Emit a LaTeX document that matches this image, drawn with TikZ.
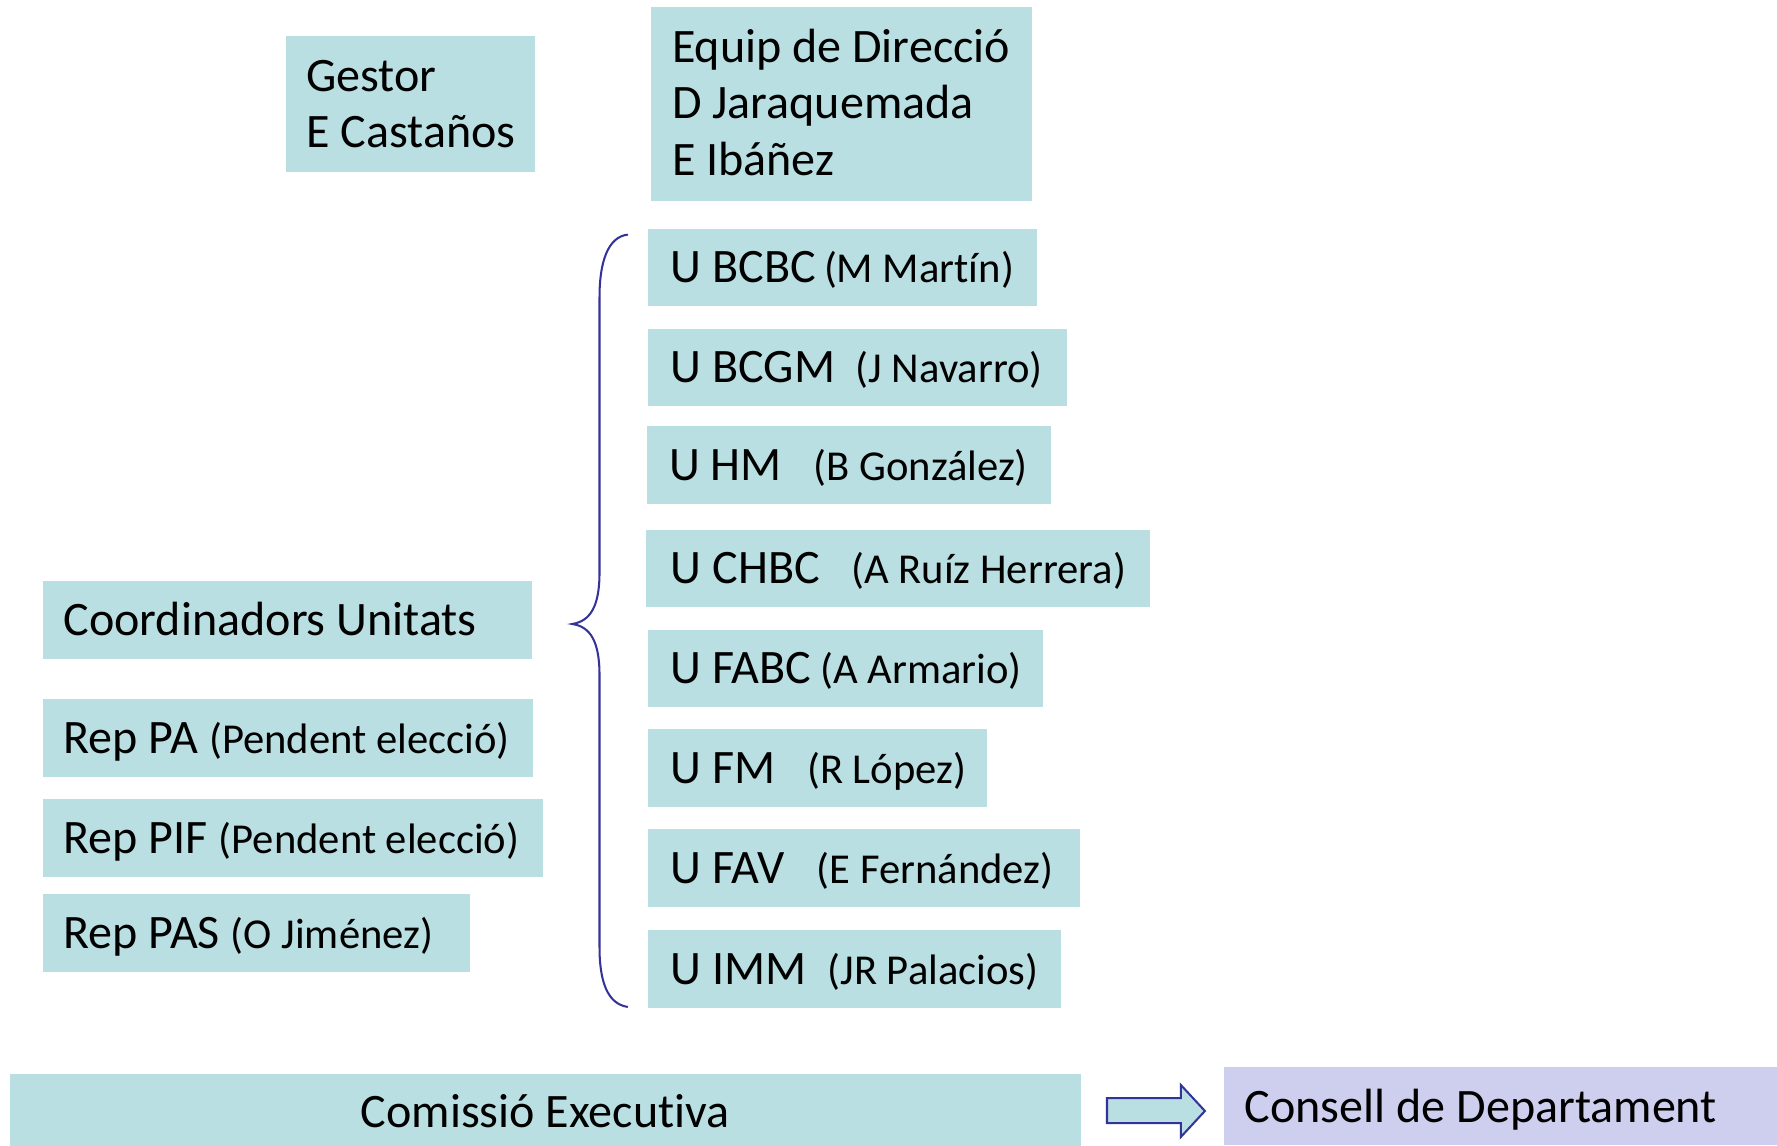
\documentclass[tikz,border=0pt]{standalone}
\usepackage{fontspec}
\setmainfont[Ligatures={NoCommon}]{Carlito}
\definecolor{boxteal}{HTML}{B9DFE2}
\definecolor{boxlav}{HTML}{CECEEE}
\definecolor{bracenavy}{HTML}{333399}
\newcommand\smtxt[1]{{\fontsize{18.8pt}{22pt}\selectfont #1}}
% name, x, y, w, h, pad, content
\newcommand\orgbox[7]{\node[box, anchor=north west, minimum width=#4*0.5pt, minimum height=#5*0.5pt, inner xsep=#6pt] (#1) at (#2,#3) {\makebox[\dimexpr #4pt/2-#6pt*2\relax][l]{#7}};}
\begin{document}
\begin{tikzpicture}[x=0.5pt,y=-0.5pt,
  box/.style={fill=boxteal, draw=none, inner ysep=0pt, font=\fontsize{21.2pt}{25pt}\selectfont, text height=13.5pt, text depth=0pt},
  bracestyle/.style={draw=bracenavy, line width=0.9pt},
  blockarrow/.style={draw=bracenavy, fill=boxteal, line width=0.9pt, line join=miter}]
\useasboundingbox (0,0) rectangle (1568,1011);

% top boxes
\node[box, anchor=north west, minimum width=110pt, minimum height=59.85pt, inner xsep=9pt, text height=0pt, text depth=11.7pt] (gestor) at (252,31.8)
  {\makebox[92pt][l]{\begin{tabular}[t]{@{}l@{}}Gestor\\E Castaños\end{tabular}}};
\node[box, anchor=north west, minimum width=168.35pt, minimum height=85.55pt, inner xsep=9.5pt, text height=0pt, text depth=37.1pt] (equip) at (573.6,5.9)
  {\makebox[149.35pt][l]{\begin{tabular}[t]{@{}l@{}}Equip de Direcció\\D Jaraquemada\\E Ibáñez\end{tabular}}};

% units
\orgbox{bcbc}{571.5}{201.5}{342.9}{68.2}{10}{\makebox[67.6pt][l]{U BCBC}\smtxt{(M Martín)}}
\orgbox{bcgm}{571.5}{289.7}{369.7}{68.3}{10}{\makebox[81.6pt][l]{U BCGM}\smtxt{(J Navarro)}}
\orgbox{hm}{570.9}{375.9}{356.4}{68.2}{9.6}{\makebox[63.7pt][l]{U HM}\smtxt{(B González)}}
\orgbox{chbc}{569.9}{467}{444.6}{68.3}{10.8}{\makebox[79.7pt][l]{U CHBC}\smtxt{(A Ruíz Herrera)}}
\orgbox{fabc}{571.5}{555.2}{348.5}{68.3}{10}{\makebox[66pt][l]{U FABC}\smtxt{(A Armario)}}
\orgbox{fm}{571.5}{643.2}{299.3}{68.6}{10}{\makebox[60.2pt][l]{U FM}\smtxt{(R López)}}
\orgbox{fav}{571.5}{731.5}{381.3}{68.5}{10}{\makebox[64.5pt][l]{U FAV}\smtxt{(E Fernández)}}
\orgbox{imm}{571.5}{820.6}{364.5}{68.2}{10}{\makebox[69.2pt][l]{U IMM}\smtxt{(JR Palacios)}}

% left boxes
\orgbox{coord}{37.7}{512.6}{431.3}{68.9}{9}{Coordinadors Unitats}
\orgbox{reppa}{37.7}{616.8}{432.3}{68.5}{9}{\makebox[64.2pt][l]{Rep PA}\smtxt{(Pendent elecció)}}
\orgbox{reppif}{37.7}{705}{441.1}{68.5}{9}{\makebox[68.5pt][l]{Rep PIF}\smtxt{(Pendent elecció)}}
\orgbox{reppas}{37.7}{788.8}{376.6}{68.6}{9}{\makebox[73.8pt][l]{Rep PAS}\smtxt{(O Jiménez)}}

% brace
\draw[bracestyle] (554,207) .. controls (536,209) and (529,232) .. (529,262)
  -- (529,505) .. controls (529,535) and (521,548) .. (505,550.6)
  .. controls (521,553) and (529,566) .. (529,596)
  -- (529,836) .. controls (529,866) and (536,886) .. (554,888.5);

% bottom row
\node[box, anchor=north west, minimum width=472.7pt, minimum height=31.7pt, text height=15.4pt] (comissio) at (8,947.6) {Comissió Executiva};
\node[box, fill=boxlav, anchor=north west, minimum width=244pt, minimum height=34.25pt, inner xsep=9pt, text height=14pt] (consell) at (1080,941.5)
  {\makebox[226pt][l]{Consell de Departament}};

% block arrow
\coordinate (arrtail) at (976.8,980);
\coordinate (arrtip) at (1063.2,980.3);
\draw[blockarrow] (976.8,968.9) -- (1042,968.9) -- (1042,957.4) -- (arrtip) -- (1042,1003.2) -- (1042,991) -- (976.8,991) -- cycle;
\end{tikzpicture}
\end{document}
